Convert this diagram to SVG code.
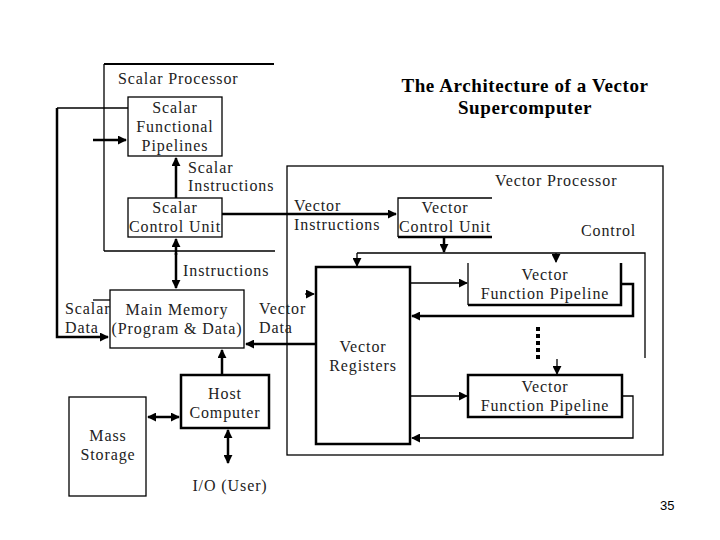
<svg xmlns="http://www.w3.org/2000/svg" width="720" height="540" viewBox="0 0 720 540">
<style>
text{font-family:"Liberation Serif","Times New Roman",serif;font-size:16px;letter-spacing:0.9px;fill:#222;}
.c{text-anchor:middle;}
.t{font-weight:bold;font-size:19px;letter-spacing:0.6px;fill:#000;}
.ln{fill:none;stroke:#000;stroke-width:1.3;}
.tk{fill:none;stroke:#000;stroke-width:2.5;}
.box{fill:#fff;stroke:#000;stroke-width:1.3;}
.bx{fill:#fff;stroke:#000;stroke-width:2.5;}
</style>
<defs>
<marker id="a" viewBox="0 0 10 10" refX="9" refY="5" markerWidth="9" markerHeight="9" markerUnits="userSpaceOnUse" orient="auto-start-reverse"><path d="M0,0 L10,5 L0,10 z" fill="#000"/></marker>
</defs>
<rect width="720" height="540" fill="#fff"/>

<g id="scalar-processor">
<path class="ln" d="M104,251 V64 M275,251 H104"/>
<path d="M104,64 H274" stroke="#000" stroke-width="2"/>
<text x="118" y="84">Scalar Processor</text>
</g>
<g id="vector-processor">
<rect class="box" x="287" y="166" width="376" height="289" fill="none"/>
<text x="495" y="186">Vector Processor</text>
</g>

<g id="title">
<text class="c t" x="525" y="92">The Architecture of a Vector</text>
<text class="c t" x="525" y="114">Supercomputer</text>
</g>

<g id="connectors">
<path class="ln" d="M57,108 H128"/>
<path class="tk" d="M57,108 V337 H108" marker-end="url(#a)"/>
<path class="tk" d="M93,140 H126" marker-end="url(#a)"/>
<path class="tk" d="M176,198 V158" marker-end="url(#a)"/>
<path class="tk" d="M222,214 H396" marker-end="url(#a)"/>
<path class="tk" d="M176,253 V288" marker-end="url(#a)"/>
<path class="tk" d="M176,255 V239" marker-end="url(#a)"/>
<path class="ln" d="M93,300 H110"/>
<path class="tk" d="M316,344 H246" marker-end="url(#a)"/>
<path class="tk" d="M222,375 V350" marker-end="url(#a)"/>
<path class="tk" d="M148,417 H179" marker-start="url(#a)" marker-end="url(#a)"/>
<path class="tk" d="M228,430 V463" marker-start="url(#a)" marker-end="url(#a)"/>
<path class="tk" d="M444,237 V252" marker-end="url(#a)"/>
<path class="ln" d="M357,253 H645 V358"/>
<path class="ln" d="M357,253 V266" marker-end="url(#a)"/>
<path class="ln" d="M556,253 V262" marker-end="url(#a)"/>
<path class="ln" d="M557,359 V374" marker-end="url(#a)"/>
<path class="ln" d="M305,294 H314" marker-end="url(#a)"/>
<path class="ln" d="M410,283 H467" marker-end="url(#a)"/>
<path class="tk" d="M621,284 H633 V316 H412" marker-end="url(#a)"/>
<path class="ln" d="M410,396 H467" marker-end="url(#a)"/>
<path class="ln" d="M622,396 H633 V438 H412" marker-end="url(#a)"/>
<path d="M538,327 V362" stroke="#000" stroke-width="4" stroke-dasharray="4,3"/>
</g>

<g id="scalar-pipelines">
<rect class="box" x="128" y="97" width="94" height="59"/>
<text class="c" x="175" y="113">Scalar</text>
<text class="c" x="175" y="132">Functional</text>
<text class="c" x="175" y="151">Pipelines</text>
</g>
<g id="scalar-instructions-label">
<text x="188" y="173">Scalar</text>
<text x="188" y="191">Instructions</text>
</g>
<g id="scalar-control-unit">
<rect class="box" x="128" y="198" width="94" height="39"/>
<text class="c" x="175" y="213">Scalar</text>
<text class="c" x="175" y="232">Control Unit</text>
</g>
<g id="vector-instructions-label">
<text x="294" y="211">Vector</text>
<text x="294" y="230">Instructions</text>
</g>
<g id="vector-control-unit">
<path class="ln" d="M492,198 H398 V237"/>
<path class="tk" d="M398,237 H492"/>
<text class="c" x="445" y="213">Vector</text>
<text class="c" x="445" y="232">Control Unit</text>
</g>
<g id="control-label"><text x="581" y="236">Control</text></g>
<g id="instructions-label"><text x="183" y="276">Instructions</text></g>
<g id="scalar-data-label">
<text x="65" y="314">Scalar</text>
<text x="65" y="333">Data</text>
</g>
<g id="vector-data-label">
<text x="259" y="314">Vector</text>
<text x="259" y="333">Data</text>
</g>
<g id="main-memory">
<rect class="box" x="110" y="290" width="134" height="58"/>
<text class="c" x="177" y="315">Main Memory</text>
<text class="c" x="177" y="334">(Program &amp; Data)</text>
</g>
<g id="vector-registers">
<rect class="bx" x="316" y="267" width="94" height="177"/>
<text class="c" x="363" y="352">Vector</text>
<text class="c" x="363" y="371">Registers</text>
</g>
<g id="vector-pipeline-1">
<path class="ln" d="M468,263 V305"/>
<path class="tk" d="M468,305 H621 V263"/>
<text class="c" x="545" y="280">Vector</text>
<text class="c" x="545" y="299">Function Pipeline</text>
</g>
<g id="vector-pipeline-2">
<rect class="bx" x="468" y="375" width="154" height="42"/>
<text class="c" x="545" y="392">Vector</text>
<text class="c" x="545" y="411">Function Pipeline</text>
</g>
<g id="host-computer">
<rect class="bx" x="181" y="375" width="88" height="53"/>
<text class="c" x="225" y="399">Host</text>
<text class="c" x="225" y="418">Computer</text>
</g>
<g id="mass-storage">
<rect class="box" x="69" y="397" width="77" height="99"/>
<text class="c" x="108" y="441">Mass</text>
<text class="c" x="108" y="460">Storage</text>
</g>
<g id="io-label"><text class="c" x="230" y="491">I/O (User)</text></g>
<text x="660" y="510" style="font-family:'Liberation Sans',Arial,sans-serif;font-size:13px;letter-spacing:0;fill:#000">35</text>
</svg>
